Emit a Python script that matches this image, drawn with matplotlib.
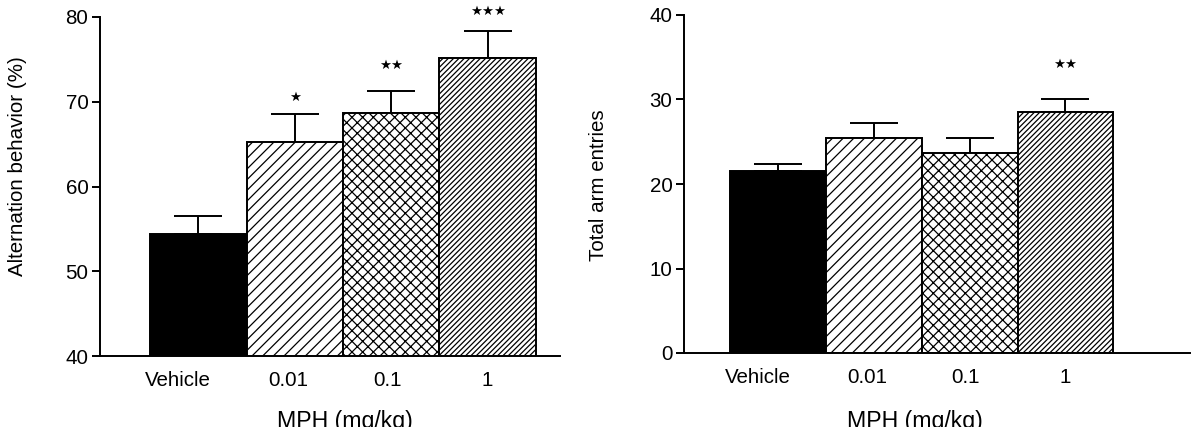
import matplotlib.pyplot as plt

doses = ["Vehicle", "0.01", "0.1", "1"]

# left panel: spontaneous alternation (%)
alt_mean = [54.4, 65.2, 68.7, 75.2]
alt_sem = [2.1, 3.3, 2.6, 3.1]
alt_stars = ["", "★", "★★", "★★★"]

# right panel: total arm entries
arm_mean = [21.5, 25.5, 23.7, 28.5]
arm_sem = [0.9, 1.7, 1.7, 1.6]
arm_stars = ["", "", "", "★★"]

DPI = 64
W, H = 1197, 427
plt.rcParams['font.family'] = ['Liberation Sans', 'DejaVu Sans']
plt.rcParams['hatch.linewidth'] = 1.4
plt.rcParams['hatch.color'] = 'black'

fills = ['black', 'white', 'white', 'white']
hatches = [None, '//', 'xx', '////']
label_pos = [-0.21, 0.93, 1.96, 3.0]
FS = 23

fig = plt.figure(figsize=(W / DPI, H / DPI), dpi=DPI)


def panel(rect, means, sems, stars, ylim, yticks, xlim, star_y, ylabel,
          ylab_xy, xlab_x):
    ax = fig.add_axes(rect)
    x = list(range(len(means)))
    ax.bar(x, means, width=1.0, color=fills, edgecolor='black',
           linewidth=2.2, hatch=hatches, zorder=2)
    ax.errorbar(x, means, yerr=[[0] * len(sems), sems], fmt='none',
                ecolor='black', elinewidth=2.2, capsize=27, capthick=2.2,
                zorder=1)
    for xi, s, yy in zip(x, stars, star_y):
        if s:
            ax.text(xi, yy, s, ha='center', va='center', fontsize=15,
                    family='DejaVu Sans')
    ax.set_ylim(*ylim)
    ax.set_xlim(*xlim)
    ax.set_yticks(yticks)
    ax.set_xticks(label_pos)
    ax.set_xticklabels(doses)
    ax.tick_params(axis='x', length=0, pad=17, labelsize=FS)
    ax.tick_params(axis='y', length=9, width=2.2, direction='out',
                   pad=4, labelsize=FS)
    for sp in ['top', 'right']:
        ax.spines[sp].set_visible(False)
    for sp in ['left', 'bottom']:
        ax.spines[sp].set_linewidth(2.2)
    fig.text(ylab_xy[0] / W, 1 - ylab_xy[1] / H, ylabel, rotation=90,
             ha='center', va='center', fontsize=FS)
    # x label, partly cut by the bottom edge as in the scan
    fig.text(xlab_x / W, 1 - 410 / H, "MPH (mg/kg)", ha='center', va='top',
             fontsize=26)
    return ax


panel([100 / W, 1 - 356 / H, 460 / W, 339 / H], alt_mean, alt_sem, alt_stars,
      (40, 80), [40, 50, 60, 70, 80], (-1.02, 3.75), [0, 70.5, 74.3, 80.6],
      "Alternation behavior (%)", (18, 166), 345)

panel([684 / W, 1 - 353 / H, 506 / W, 338 / H], arm_mean, arm_sem, arm_stars,
      (0, 40), [0, 10, 20, 30, 40], (-0.98, 4.30), [0, 0, 0, 34.2],
      "Total arm entries", (599, 185), 915)

fig.savefig("out.png", dpi=DPI)
